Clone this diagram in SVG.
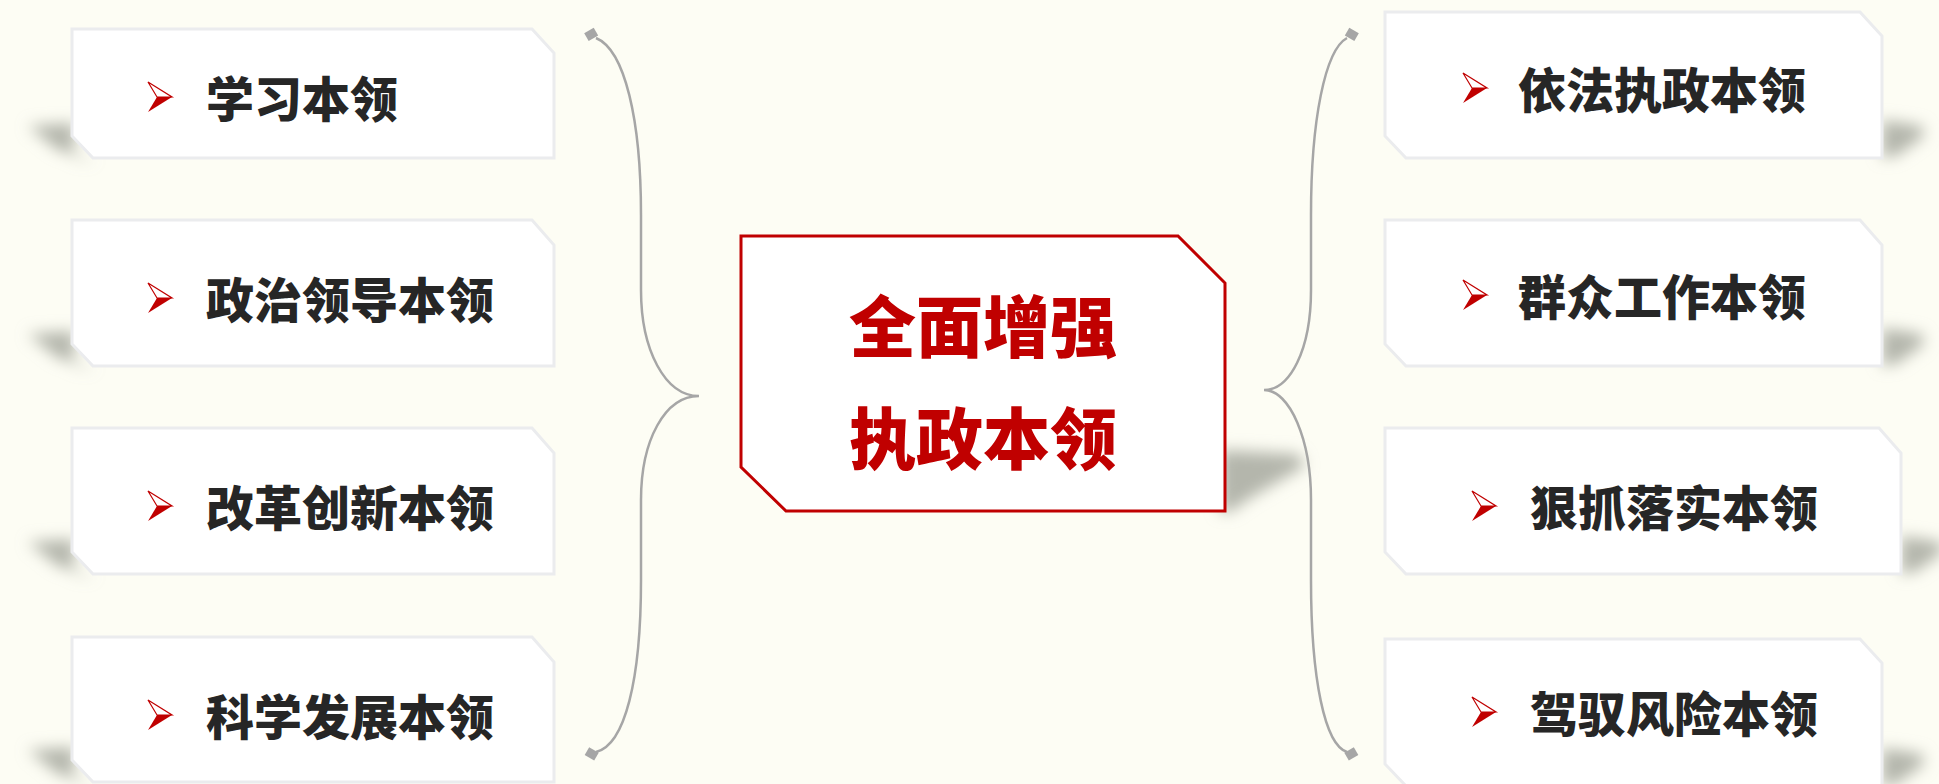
<svg xmlns="http://www.w3.org/2000/svg" width="1939" height="784" viewBox="0 0 1939 784">
<style>
.bg{fill:#fdfdf4}
.box{fill:#ffffff;stroke:#ebecee;stroke-width:3}
.lbl{font-family:"Noto Sans CJK SC","Noto Sans",sans-serif;font-weight:900;font-size:48px;fill:#262626;dominant-baseline:central}
.ctr{font-family:"Noto Sans CJK SC","Noto Sans",sans-serif;font-weight:900;font-size:67px;fill:#c00000;dominant-baseline:central;text-anchor:middle}
.shd{fill:#b4b6ac}
.brace{fill:none;stroke:#a6a6a6;stroke-width:2.5}
.end{fill:#a6a6a6}
.arf{fill:#c00000}
.aro{fill:#ffffff;stroke:#c00000;stroke-width:1.2}
</style>
<defs>
<filter id="blur" x="-50%" y="-100%" width="200%" height="300%"><feGaussianBlur stdDeviation="7.5"/></filter>
<g id="arrow">
<polygon class="aro" points="0,0 24,15 9,15"/>
<polygon class="arf" points="9,15 24,15 0,30"/>
</g>
<polygon id="lsh" class="shd" points="28,-32 74,-35 74,0 96,3 58,-8"/>
<polygon id="rsh" class="shd" points="0,-38 40,-32 42,-22 14,-2 0,0"/>
</defs>
<rect class="bg" x="0" y="0" width="1939" height="784"/>

<g id="connectors">
<path class="brace" d="M596,38 C625,50 641,120 641,215 L641,290 C641,350 665,396 699,396 C665,396 641,440 641,500 L641,580 C641,680 625,745 596,752"/>
<rect class="end" x="586" y="30" width="11" height="9" transform="rotate(-30 591 35)"/>
<rect class="end" x="586" y="749" width="11" height="9" transform="rotate(30 591 754)"/>
<path class="brace" d="M1347,38 C1325,50 1311,120 1311,215 L1311,290 C1311,350 1290,390 1264,390 C1290,390 1311,440 1311,500 L1311,580 C1311,680 1325,745 1347,752"/>
<rect class="end" x="1346" y="30" width="11" height="9" transform="rotate(30 1352 35)"/>
<rect class="end" x="1346" y="749" width="11" height="9" transform="rotate(-30 1352 754)"/>
</g>

<g id="center">
<polygon class="shd" points="1220,450 1298,454 1305,466 1250,498 1230,512 1220,512" filter="url(#blur)"/>
<polygon fill="#ffffff" stroke="#c00000" stroke-width="3" points="741,236 1178,236 1225,283 1225,511 786,511 741,467"/>
<text class="ctr" x="983" y="322">全面增强</text>
<text class="ctr" x="983" y="434">执政本领</text>
</g>

<g id="n1">
<use href="#lsh" x="0" y="158" filter="url(#blur)"/>
<polygon class="box" points="72,29 532,29 554,53 554,158 93,158 72,136"/>
<use href="#arrow" x="148" y="82"/>
<text class="lbl" x="206" y="96">学习本领</text>
</g>
<g id="n2">
<use href="#lsh" x="0" y="366" filter="url(#blur)"/>
<polygon class="box" points="72,220 532,220 554,245 554,366 93,366 72,344"/>
<use href="#arrow" x="148" y="283"/>
<text class="lbl" x="206" y="297">政治领导本领</text>
</g>
<g id="n3">
<use href="#lsh" x="0" y="574" filter="url(#blur)"/>
<polygon class="box" points="72,428 532,428 554,453 554,574 93,574 72,552"/>
<use href="#arrow" x="148" y="491"/>
<text class="lbl" x="206" y="505">改革创新本领</text>
</g>
<g id="n4">
<use href="#lsh" x="0" y="782" filter="url(#blur)"/>
<polygon class="box" points="72,637 532,637 554,662 554,782 93,782 72,760"/>
<use href="#arrow" x="148" y="700"/>
<text class="lbl" x="206" y="714">科学发展本领</text>
</g>

<g id="r1">
<use href="#rsh" x="1882" y="158" filter="url(#blur)"/>
<polygon class="box" points="1385,12 1860,12 1882,36 1882,158 1406,158 1385,136"/>
<use href="#arrow" x="1463" y="73"/>
<text class="lbl" x="1518" y="87">依法执政本领</text>
</g>
<g id="r2">
<use href="#rsh" x="1882" y="366" filter="url(#blur)"/>
<polygon class="box" points="1385,220 1860,220 1882,245 1882,366 1406,366 1385,344"/>
<use href="#arrow" x="1463" y="280"/>
<text class="lbl" x="1518" y="294">群众工作本领</text>
</g>
<g id="r3">
<use href="#rsh" x="1901" y="574" filter="url(#blur)"/>
<polygon class="box" points="1385,428 1879,428 1901,453 1901,574 1406,574 1385,552"/>
<use href="#arrow" x="1472" y="491"/>
<text class="lbl" x="1530" y="505">狠抓落实本领</text>
</g>
<g id="r4">
<use href="#rsh" x="1882" y="786" filter="url(#blur)"/>
<polygon class="box" points="1385,639 1860,639 1882,663 1882,786 1406,786 1385,764"/>
<use href="#arrow" x="1472" y="697"/>
<text class="lbl" x="1530" y="711">驾驭风险本领</text>
</g>
</svg>
